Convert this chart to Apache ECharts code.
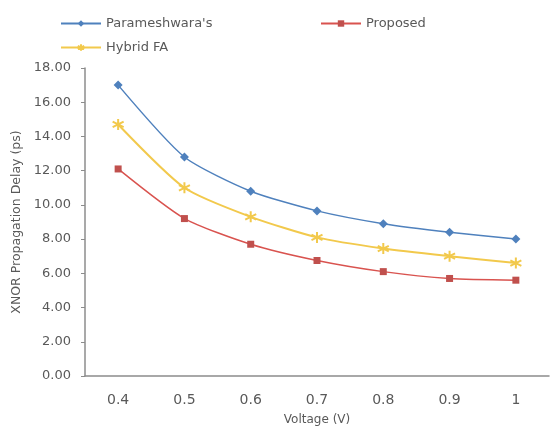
<!DOCTYPE html>
<html>
<head>
<meta charset="utf-8">
<script src="https://cdn.jsdelivr.net/npm/echarts@6/dist/echarts.min.js"></script>
<style>html,body{margin:0;padding:0;background:#fff;}#c{width:551px;height:427px;}</style>
</head>
<body>
<div id="c"></div>
<script>
const categories = ['0.4', '0.5', '0.6', '0.7', '0.8', '0.9', '1'];
const parameshwara = [17.0, 12.8, 10.8, 9.65, 8.9, 8.4, 8.0];
const hybridFA = [14.7, 11.0, 9.3, 8.1, 7.45, 7.0, 6.6];
const proposed = [12.1, 9.2, 7.7, 6.75, 6.1, 5.7, 5.6];
const yTicks = { min: 0, max: 18, interval: 2 };

const grey = '#595959';
const starPath = 'path://M0,-10L0,10M-8.7,-5L8.7,5M-8.7,5L8.7,-5';
const chart = echarts.init(document.getElementById('c'), null, { renderer: 'canvas' });
const font = 'DejaVu Sans';
const legendBase = {
  itemWidth: 40, itemHeight: 8, itemGap: 4, padding: 0,
  textStyle: { color: grey, fontSize: 13, fontFamily: font }
};
chart.setOption({
  animation: false,
  backgroundColor: '#fff',
  legend: [
    Object.assign({}, legendBase, { data: ["Parameshwara's"], left: 60, top: 17 }),
    Object.assign({}, legendBase, { data: ['Proposed'], left: 320, top: 17 }),
    Object.assign({}, legendBase, { data: ['Hybrid FA'], left: 60, top: 41 })
  ],
  grid: { left: 85, right: 2, top: 68, bottom: 51, containLabel: false, outerBoundsMode: 'none' },
  xAxis: {
    type: 'category',
    data: categories,
    boundaryGap: true,
    name: 'Voltage (V)',
    nameLocation: 'middle',
    nameGap: 38,
    nameTextStyle: { color: grey, fontSize: 12, fontFamily: font },
    axisLine: { lineStyle: { color: '#8c8c8c', width: 1.5 } },
    axisTick: { alignWithLabel: true, length: 4, lineStyle: { color: '#8c8c8c' } },
    axisLabel: { color: grey, fontSize: 14, fontFamily: font, margin: 17 }
  },
  yAxis: {
    type: 'value',
    min: yTicks.min, max: yTicks.max, interval: yTicks.interval,
    name: 'XNOR Propagation Delay (ps)',
    nameLocation: 'middle',
    nameGap: 56,
    nameTextStyle: { color: grey, fontSize: 12.5, fontFamily: font },
    axisLine: { show: true, lineStyle: { color: '#8c8c8c', width: 1.5 } },
    axisTick: { show: true, length: 4, lineStyle: { color: '#8c8c8c' } },
    splitLine: { show: false },
    axisLabel: { color: grey, fontSize: 13, fontFamily: font, margin: 14, formatter: v => v.toFixed(2) }
  },
  series: [
    {
      name: "Parameshwara's", type: 'line', smooth: 0.22, data: parameshwara,
      symbol: 'diamond', symbolSize: 9,
      lineStyle: { color: '#4f81bd', width: 1.5 },
      itemStyle: { color: '#4f81bd' }
    },
    {
      name: 'Proposed', type: 'line', smooth: 0.22, data: proposed,
      symbol: 'rect', symbolSize: 7,
      lineStyle: { color: '#d9534f', width: 1.5 },
      itemStyle: { color: '#c0504d' }
    },
    {
      name: 'Hybrid FA', type: 'line', smooth: 0.22, data: hybridFA,
      symbol: starPath, symbolSize: 11,
      lineStyle: { color: '#f2c94c', width: 2 },
      itemStyle: { color: '#f2c94c', borderColor: '#f2c94c', borderWidth: 2 }
    }
  ]
});
</script>
</body>
</html>
